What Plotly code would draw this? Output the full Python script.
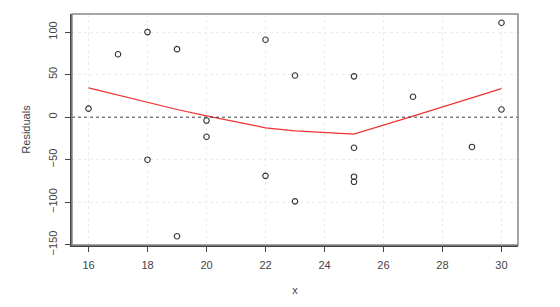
import plotly.graph_objects as go

# Residual points
x_pts = [16, 17, 18, 18, 19, 19, 20, 20, 22, 22, 23, 23, 25, 25, 25, 25, 27, 29, 30, 30]
resid = [10, 74, 100, -50, 80, -140, -4, -23, 91, -69, 49, -99, 48, -36, -70, -76, 24, -35, 111, 9]

# Smoother (lowess) curve
x_smooth = [16, 17, 18, 19, 20, 22, 23, 25, 27, 29, 30]
y_smooth = [34.5, 26, 17.5, 9, 1.5, -12.5, -16, -20, 1.2, 22.5, 33.5]

x_ticks = [16, 18, 20, 22, 24, 26, 28, 30]
y_ticks = [-150, -100, -50, 0, 50, 100]

FONT = "Liberation Sans, Arial, Helvetica, sans-serif"

fig = go.Figure()
fig.add_trace(go.Scatter(
    x=x_pts, y=resid, mode="markers",
    marker=dict(symbol="circle-open", size=5.5, color="#333333", line=dict(width=1.1)),
    showlegend=False, hoverinfo="skip"))
fig.add_trace(go.Scatter(
    x=x_smooth, y=y_smooth, mode="lines",
    line=dict(color="#ee3333", width=1.2),
    showlegend=False, hoverinfo="skip"))

fig.update_layout(
    width=560, height=307,
    margin=dict(l=72, r=42, t=14, b=60),
    paper_bgcolor="white", plot_bgcolor="white",
    font=dict(family=FONT, size=11, color="#444444"),
    shapes=[
        dict(type="line", xref="paper", yref="y", x0=0, x1=1, y0=0, y1=0,
             line=dict(color="#333333", width=0.9, dash="dot")),
        dict(type="rect", xref="paper", yref="paper", x0=0, x1=1, y0=0, y1=1,
             line=dict(color="#888888", width=1.5)),
    ],
)
fig.update_xaxes(
    range=[15.44, 30.56], tickvals=x_ticks, ticktext=[str(v) for v in x_ticks],
    showgrid=True, gridcolor="#ebebeb", griddash="dot", gridwidth=1,
    zeroline=False, showline=True, linecolor="#444444", linewidth=1.5,
    ticks="outside", ticklen=5, tickcolor="#444444", tickwidth=1.2,
    ticklabelstandoff=4,
    title=dict(text="x", standoff=16, font=dict(size=11, color="#444444")),
)
fig.update_yaxes(
    range=[-150.3, 121.3], tickvals=y_ticks,
    ticktext=["\u2212150" if v == -150 else ("\u2212100" if v == -100 else ("\u221250" if v == -50 else str(v))) for v in y_ticks],
    tickangle=-90,
    showgrid=True, gridcolor="#ebebeb", griddash="dot", gridwidth=1,
    zeroline=False, showline=True, linecolor="#444444", linewidth=1.5,
    ticks="outside", ticklen=5, tickcolor="#444444", tickwidth=1.2,
    ticklabelstandoff=4,
    title=dict(text="Residuals", standoff=14, font=dict(size=11, color="#444444")),
)

fig.write_html("out.html")
